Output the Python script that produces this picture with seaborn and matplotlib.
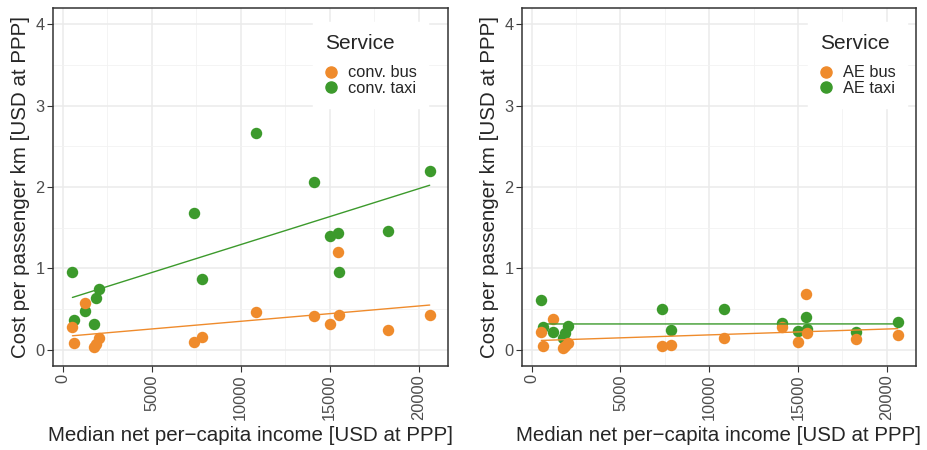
import numpy as np
import pandas as pd
import matplotlib.pyplot as plt
import seaborn as sns

# --- Data ---
income = [540, 620, 1220, 1770, 1850, 2050, 7350, 7850, 10850,
          14100, 15030, 15480, 15520, 18280, 20620]

conv_bus = [0.28, 0.08, 0.58, 0.03, 0.07, 0.14, 0.09, 0.16, 0.46,
            0.41, 0.32, 1.20, 0.43, 0.24, 0.43]
conv_taxi = [0.96, 0.37, 0.48, 0.32, 0.63, 0.74, 1.68, 0.87, 2.66,
             2.06, 1.40, 1.44, 0.95, 1.46, 2.20]
ae_bus = [0.22, 0.04, 0.38, 0.02, 0.05, 0.08, 0.05, 0.06, 0.14,
          0.28, 0.10, 0.68, 0.20, 0.13, 0.18]
ae_taxi = [0.61, 0.28, 0.22, 0.14, 0.20, 0.29, 0.50, 0.24, 0.50,
           0.33, 0.23, 0.40, 0.25, 0.22, 0.34]

ORANGE = "#EF8B2C"
GREEN = "#3C9A2C"

panels = [
    {"conv. bus": conv_bus, "conv. taxi": conv_taxi},
    {"AE bus": ae_bus, "AE taxi": ae_taxi},
]
legend_anchor = [(0.949, 0.96), (0.977, 0.96)]

sns.set_theme(style="whitegrid")
plt.rcParams["font.family"] = ["Liberation Sans", "DejaVu Sans"]

fig = plt.figure(figsize=(9.27, 4.5), dpi=100)
axes = [fig.add_axes([0.0572, 0.1867, 0.4261, 0.7956]),
        fig.add_axes([0.5631, 0.1867, 0.4250, 0.7956])]

for ax, series, anchor in zip(axes, panels, legend_anchor):
    names = list(series.keys())
    df = pd.concat([pd.DataFrame({"income": income, "cost": v, "Service": k})
                    for k, v in series.items()], ignore_index=True)
    pal = {names[0]: ORANGE, names[1]: GREEN}
    # points: taxi first so bus points sit on top
    for name in [names[1], names[0]]:
        sub = df[df["Service"] == name]
        sns.scatterplot(data=sub, x="income", y="cost", color=pal[name], s=68,
                        linewidth=0, ax=ax, label=None, zorder=3)
    for name in names:
        sub = df[df["Service"] == name]
        sns.regplot(data=sub, x="income", y="cost", ci=None, scatter=False,
                    color=pal[name], line_kws={"lw": 1.0, "zorder": 4}, ax=ax)

    ax.set_xlim(-550, 21650)
    ax.set_ylim(-0.2, 4.2)
    ax.set_xticks([0, 5000, 10000, 15000, 20000])
    ax.set_xticks([2500, 7500, 12500, 17500], minor=True)
    ax.set_yticks([0, 1, 2, 3, 4])
    ax.set_yticks([0.5, 1.5, 2.5, 3.5], minor=True)
    ax.grid(which="major", color="#EBEBEB", lw=1.1)
    ax.grid(which="minor", color="#F2F2F2", lw=0.6)
    ax.set_axisbelow(True)
    for sp in ax.spines.values():
        sp.set_color("#333333")
        sp.set_linewidth(1.1)
    ax.tick_params(axis="both", which="major", length=4, width=0.8, color="#333333",
                   labelcolor="#4D4D4D", labelsize=11.8, pad=2, bottom=True, left=True)
    ax.tick_params(axis="x", labelrotation=90)
    ax.tick_params(which="minor", length=0)
    ax.set_xlabel("Median net per\u2212capita income [USD at PPP]", fontsize=14.8, labelpad=4)
    ax.set_ylabel("Cost per passenger km [USD at PPP]", fontsize=14.8, labelpad=4)

    handles = [plt.Line2D([], [], marker="o", ls="", color=pal[n], markersize=8) for n in names]
    leg = ax.legend(handles, names, title="Service", loc="upper right",
                    bbox_to_anchor=anchor, borderaxespad=0, frameon=True,
                    fontsize=11.8, title_fontsize=15, handletextpad=0.6,
                    labelspacing=0.05, borderpad=0.7, handlelength=0.8)
    leg._legend_box.align = "left"
    leg._legend_box.sep = 9
    leg.get_frame().set_edgecolor("white")
    leg.get_frame().set_facecolor("white")
    leg.get_frame().set_alpha(1.0)
    leg.get_frame().set_boxstyle("square", pad=0)

fig.savefig("out.png", dpi=100)
